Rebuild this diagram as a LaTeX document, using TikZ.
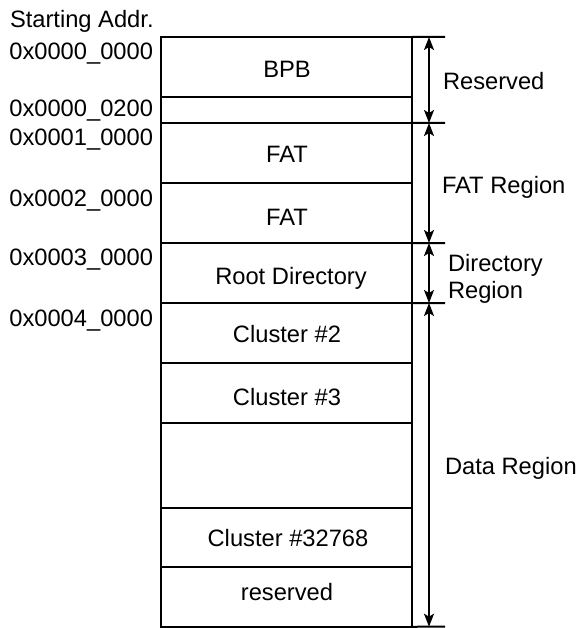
\documentclass[tikz,border=0pt]{standalone}
\usepackage{fontspec}
\setmainfont{Liberation Sans}
\usetikzlibrary{arrows.meta}
\tikzset{
  lbl/.style={font=\fontsize{23.7bp}{28bp}\selectfont, inner sep=0pt, outer sep=0pt},
  cell/.style={draw, line width=2bp, minimum width=251bp, inner sep=0pt, outer sep=0pt},
  celltxt/.style={lbl, anchor=base},
  addr/.style={lbl, anchor=base east},
  region/.style={lbl, anchor=base west},
  tick/.style={line width=2bp},
  span/.style={line width=2bp, {Stealth[length=13bp,width=10bp,inset=3bp]}-{Stealth[length=13bp,width=10bp,inset=3bp]}}
}
\begin{document}
\begin{tikzpicture}[x=1bp,y=-1bp]
\useasboundingbox (0,0) rectangle (579,628);
% cells
\node[cell, minimum height=60bp] (bpb) at (286.5,67) {};
\node[cell, minimum height=26bp] (gap) at (286.5,110) {};
\node[cell, minimum height=60bp] (fat1) at (286.5,153) {};
\node[cell, minimum height=60bp] (fat2) at (286.5,213) {};
\node[cell, minimum height=60bp] (root) at (286.5,273) {};
\node[cell, minimum height=60bp] (c2) at (286.5,333) {};
\node[cell, minimum height=60bp] (c3) at (286.5,393) {};
\node[cell, minimum height=85bp] (blank) at (286.5,465.5) {};
\node[cell, minimum height=59.5bp] (cl) at (286.5,537.5) {};
\node[cell, minimum height=59.5bp] (resv) at (286.5,597) {};
% cell texts
\node[celltxt] (tbpb) at (287,77.7) {BPB};
\node[celltxt] (tfat1) at (287,163) {FAT};
\node[celltxt] (tfat2) at (287,225) {FAT};
\node[celltxt] (troot) at (291,284) {Root Directory};
\node[celltxt] (tc2) at (287,342) {Cluster \#2};
\node[celltxt] (tc3) at (287,405) {Cluster \#3};
\node[celltxt] (tcl) at (288,546.7) {Cluster \#32768};
\node[celltxt] (tresv) at (287,600.7) {reserved};
% tick coordinates
\coordinate (t0) at (445,37);
\coordinate (t1) at (445,123);
\coordinate (t2) at (445,243);
\coordinate (t3) at (445,303);
\coordinate (t4) at (445,626.7);
\draw[tick] (bpb.north east) -- (t0);
\draw[tick] (fat1.north east) -- (t1);
\draw[tick] (root.north east) -- (t2);
\draw[tick] (c2.north east) -- (t3);
\draw[tick] (resv.south east) -- (t4);
% arrow coordinates
\coordinate (a0) at (429,37);
\coordinate (a1) at (429,123);
\coordinate (a2) at (429,243);
\coordinate (a3) at (429,303);
\coordinate (a4) at (429,626.7);
\draw[span] (a0) -- (a1);
\draw[span] (a1) -- (a2);
\draw[span] (a2) -- (a3);
\draw[span] (a3) -- (a4);
% region labels
\node[region] (rres) at (443,90) {Reserved};
\node[region] (rfat) at (442,193) {FAT Region};
\node[region] (rdir1) at (448,271) {Directory};
\node[region] (rdir2) at (448,298) {Region};
\node[region] (rdata) at (445,474) {Data Region};
% addresses
\node[lbl, anchor=base west] (sa) at (10,28) {Starting Addr.};
\node[addr] (ad0) at (153,60) {0x0000\_0000};
\node[addr] (ad1) at (153,117) {0x0000\_0200};
\node[addr] (ad2) at (153,146) {0x0001\_0000};
\node[addr] (ad3) at (153,206) {0x0002\_0000};
\node[addr] (ad4) at (153,265) {0x0003\_0000};
\node[addr] (ad5) at (153,326) {0x0004\_0000};
\end{tikzpicture}
\end{document}
